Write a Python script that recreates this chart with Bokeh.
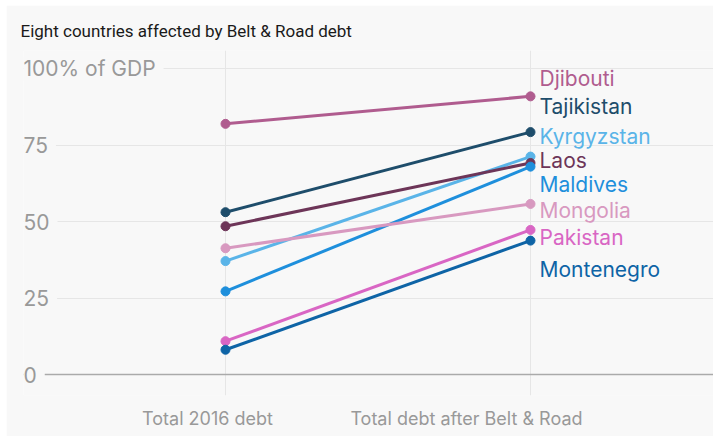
from bokeh.plotting import figure
from bokeh.models import ColumnDataSource, FixedTicker, Grid, Range1d
from bokeh.core.properties import value
from bokeh.embed import file_html
from bokeh.resources import INLINE

# ---- data ----
stages = ["Total 2016 debt", "Total debt after Belt & Road"]
countries = ["Djibouti", "Tajikistan", "Kyrgyzstan", "Laos",
             "Maldives", "Mongolia", "Pakistan", "Montenegro"]
debt_2016 = [82.0, 53.1, 37.1, 48.5, 27.2, 41.3, 10.9, 8.1]
debt_after = [91.0, 79.3, 71.3, 69.2, 68.0, 55.8, 47.3, 43.8]
colors = ["#b05c8f", "#1e4d6b", "#5ab4e8", "#6d3558",
          "#1e8fdc", "#d899c0", "#d966c4", "#0e64a6"]
y_ticks = [0, 25, 50, 75, 100]
y_tick_labels = ["0", "25", "50", "75", "100% of GDP"]
# layout: label nudges in screen pixels (baseline relative to end point)
label_dy = [-18.2, -25.2, -20.5, -2.8, 17.5, 6.2, 7.2, 29]
# layout: where the stage captions sit along the x axis
stage_label_pos = [-0.059, 0.790]

BG = "#f8f8f8"
FONT = "Inter"

x_idx = list(range(len(stages)))

p = figure(width=707, height=431, output_backend="svg", toolbar_location=None,
           x_range=Range1d(-0.6623, 1.600), y_range=Range1d(-6.87, 106.0),
           min_border_left=17, min_border_right=0, min_border_top=45,
           min_border_bottom=41, margin=(5, 0, 0, 6),
           title="Eight countries affected by Belt & Road debt")
p.background_fill_color = BG
p.border_fill_color = BG
p.outline_line_color = None

p.title.text_font = "Roboto"
p.title.text_font_size = "17px"
p.title.text_font_style = "normal"
p.title.text_color = "#1a1a1a"
p.title.standoff = 20
p.title.offset = -3

p.yaxis.visible = False
p.xaxis.ticker = FixedTicker(ticks=stage_label_pos)
p.xaxis.major_label_overrides = {t: s for t, s in zip(stage_label_pos, stages)}
p.xaxis.axis_line_color = None
p.xaxis.major_tick_line_color = None
p.xaxis.minor_tick_line_color = None
p.xaxis.major_label_text_font = FONT
p.xaxis.major_label_text_font_size = "18px"
p.xaxis.major_label_text_color = "#999999"
p.xaxis.major_label_standoff = 6

p.xgrid.ticker = FixedTicker(ticks=x_idx)
p.xgrid.grid_line_color = "#e6e6e6"
p.ygrid.ticker = FixedTicker(ticks=y_ticks[1:])
p.ygrid.grid_line_color = "#e6e6e6"
zero = Grid(dimension=1, ticker=FixedTicker(ticks=[0]), grid_line_color="#aaaaaa",
            grid_line_width=1.5)
p.add_layout(zero)

# y tick labels inside the plot, masking gridlines
tsrc = ColumnDataSource(dict(x=[p.x_range.start] * len(y_ticks), y=y_ticks,
                             t=y_tick_labels))
p.text(x="x", y="y", text="t", source=tsrc, x_offset=0, text_baseline="middle",
       text_align="left", text_font=value(FONT), text_font_size="21px",
       text_color="#999999", background_fill_color=BG,
       padding=dict(left=0, right=8, top=0, bottom=0))

# slope lines
for c, a, b, col in zip(countries, debt_2016, debt_after, colors):
    p.line(x=x_idx, y=[a, b], line_color=col, line_width=3)
    p.scatter(x=x_idx, y=[a, b], size=9, fill_color=col, line_color=col)

lsrc = ColumnDataSource(dict(x=[x_idx[-1]] * len(countries), y=debt_after,
                             t=countries, c=colors, dy=label_dy))
p.text(x="x", y="y", text="t", source=lsrc, text_color="c", x_offset=9,
       y_offset="dy", text_baseline="alphabetic", text_align="left",
       text_font=value(FONT), text_font_size="21px")

open("out.html", "w").write(file_html(p, INLINE))
